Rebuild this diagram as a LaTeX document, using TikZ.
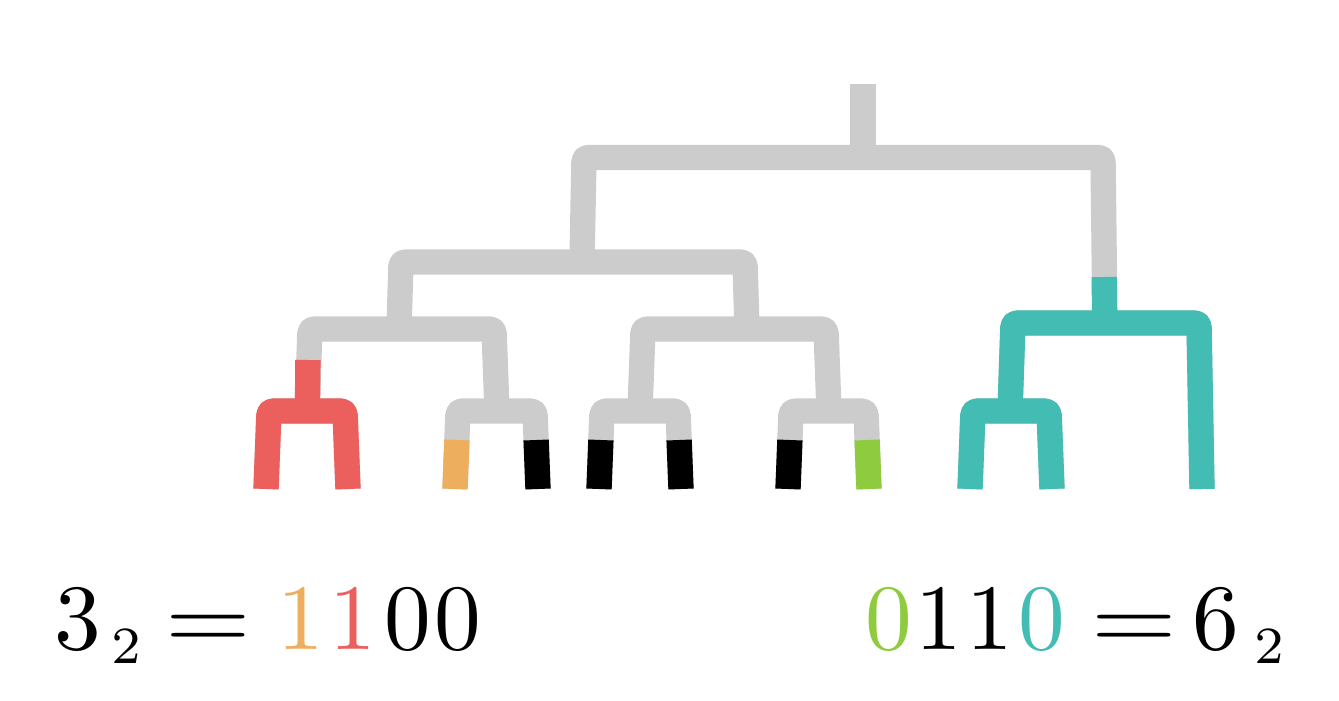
\documentclass[tikz,border=0pt]{standalone}
\usepackage{xcolor}
\usepackage{graphicx}
\definecolor{tgray}{HTML}{CCCCCC}
\definecolor{tred}{HTML}{EB5F5D}
\definecolor{torange}{HTML}{EDAE5E}
\definecolor{tgreen}{HTML}{8FCB3F}
\definecolor{tteal}{HTML}{43BDB4}
% kern given in picture pixels (node text is scaled by 7, 1px = 0.75pt)
\newcommand\pxk[1]{\kern\dimexpr #1pt*3/28\relax}
\newcommand\wideeq{\mathrel{\scalebox{1.18}[1]{$=$}}}
\newcommand\subtwo{\scalebox{0.8}{$\scriptstyle 2$}}
\begin{document}
\begin{tikzpicture}[x=0.75pt,y=-0.75pt,
  branch/.style={line width=19pt, line cap=butt, line join=round, rounded corners=3pt},
  label/.style={inner sep=0pt, scale=7}]
\path[use as bounding box] (0,0) rectangle (1339,700);
% gray tree
\begin{scope}[tgray]
\draw[branch] (863,84) -- (863,160);
\draw[branch] (582,262) -- (584,157.5) -- (1103,157.5) -- (1105,323);
\draw[branch] (399,329) -- (401,262) -- (745,262) -- (747,329);
\draw[branch] (307,411) -- (310,329) -- (494,329) -- (497,411);
\draw[branch] (640,411) -- (643,329) -- (826,329) -- (829,411);
\draw[branch] (266,489) -- (269,411) -- (345,411) -- (348,489);
\draw[branch] (455,489) -- (458,411) -- (535,411) -- (538,489);
\draw[branch] (599,489) -- (602,411) -- (678,411) -- (681,489);
\draw[branch] (788,489) -- (791,411) -- (866,411) -- (869,489);
\draw[branch] (970,489) -- (973,411) -- (1049,411) -- (1052,489);
\draw[branch] (1010,411) -- (1013,323) -- (1199,323) -- (1202,489);
\end{scope}
% red subtree
\begin{scope}[tred]
\draw[branch] (307.5,405) -- (307.9,360);
\draw[branch] (266,489) -- (269,411) -- (345,411) -- (348,489);
\end{scope}
% teal subtree
\begin{scope}[tteal]
\draw[branch] (1104.2,277) -- (1104.8,330);
\draw[branch] (1010,411) -- (1013,323) -- (1199,323) -- (1202,489);
\draw[branch] (970,489) -- (973,411) -- (1049,411) -- (1052,489);
\end{scope}
% leaf tips
\draw[branch, torange] (456.9,440) -- (455,489);
\draw[branch, black] (536.1,440) -- (538,489);
\draw[branch, black] (600.9,440) -- (599,489);
\draw[branch, black] (679.1,440) -- (681,489);
\draw[branch, black] (789.9,440) -- (788,489);
\draw[branch, tgreen] (867.1,440) -- (869,489);
% labels
\node[label, anchor=base west] (lefteq) at (53,649)
  {$3_{\pxk{10}\subtwo}\pxk{-6.6} \wideeq \pxk{0.4}{\color{torange}1}\pxk{5.3}{\color{tred}1}\pxk{8.8}0\pxk{2.8}0$};
\node[label, anchor=base west] (righteq) at (864,649)
  {${\color{tgreen}0}\pxk{2.6}1\pxk{4.8}1\pxk{5.7}{\color{tteal}0}\pxk{0} \wideeq \pxk{-11}6_{\pxk{16}\subtwo}$};
\end{tikzpicture}
\end{document}
